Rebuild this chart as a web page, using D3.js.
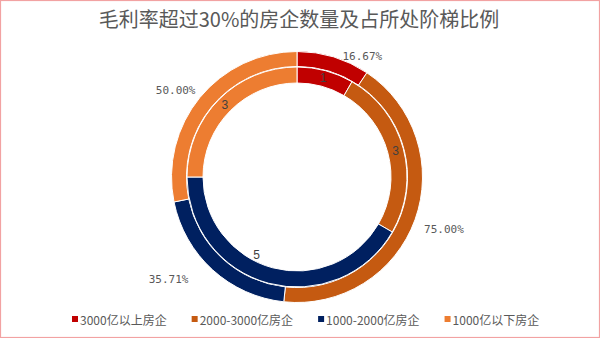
<!DOCTYPE html>
<html>
<head>
<meta charset="utf-8">
<script src="https://cdn.jsdelivr.net/npm/d3@7"></script>
<style>
  html, body { margin: 0; padding: 0; background: #fff; }
  svg { display: block; }
</style>
</head>
<body>
<svg id="chart" width="600" height="338"></svg>
<script>
// Tiers of developers by sales scale
const categories = ["3000亿以上房企", "2000-3000亿房企", "1000-2000亿房企", "1000亿以下房企"];
// Number of developers with gross margin above 30% (inner ring)
const companyCounts = [1, 3, 5, 3];
// Share of each tier those developers represent, in % (outer ring)
const tierShares = [16.67, 75.00, 35.71, 50.00];
const colors = ["#C00000", "#C55A11", "#002060", "#ED7D31"];

const title = "毛利率超过30%的房企数量及占所处阶梯比例";

// Layout
const W = 600, H = 338;
const cx = 297, cy = 177;
const outerR = [110.5, 125.5];
const innerR = [94, 110];
// Hand-placed offsets for the data labels, relative to the slice centroid
const shareLabelShift = [[31, -8], [36, 12], [-49, 15], [-30, -12]];
const countLabelShift = [[0, 0], [0, 0], [-14, -21], [0, 0]];

const svg = d3.select("#chart");

svg.append("rect")
  .attr("x", 0.5).attr("y", 0.5)
  .attr("width", W - 1).attr("height", H - 1)
  .attr("fill", "#fff")
  .attr("stroke", "#F2A2A2").attr("stroke-width", 1.2);

svg.append("text")
  .attr("x", 299).attr("y", 27)
  .attr("text-anchor", "middle")
  .attr("font-family", "'Noto Sans CJK SC', sans-serif")
  .attr("font-size", 20)
  .attr("fill", "#595959")
  .text(title);

const pie = d3.pie().sort(null).value(d => d);
const color = d3.scaleOrdinal().domain(categories).range(colors);

const g = svg.append("g").attr("transform", `translate(${cx},${cy})`);

function ring(values, radii, cls) {
  const arc = d3.arc().innerRadius(radii[0]).outerRadius(radii[1]);
  const arcs = pie(values);
  g.append("g").attr("class", cls)
    .selectAll("path")
    .data(arcs)
    .join("path")
    .attr("d", arc)
    .attr("fill", (d, i) => color(categories[i]))
    .attr("stroke", "#fff")
    .attr("stroke-width", 1);
  return { arc, arcs };
}

const outer = ring(tierShares, outerR, "shares");
const inner = ring(companyCounts, innerR, "counts");

// Percentage labels for the outer ring
g.append("g")
  .selectAll("text")
  .data(outer.arcs)
  .join("text")
  .attr("transform", (d, i) => {
    const [x, y] = outer.arc.centroid(d);
    return `translate(${x + shareLabelShift[i][0]},${y + shareLabelShift[i][1]})`;
  })
  .attr("text-anchor", "middle")
  .attr("dominant-baseline", "central")
  .attr("font-family", "'DejaVu Sans Mono', monospace")
  .attr("font-size", 11)
  .attr("fill", "#595959")
  .text(d => d3.format(".2f")(d.data) + "%");

// Count labels for the inner ring
g.append("g")
  .selectAll("text")
  .data(inner.arcs)
  .join("text")
  .attr("transform", (d, i) => {
    const [x, y] = inner.arc.centroid(d);
    return `translate(${x + countLabelShift[i][0]},${y + countLabelShift[i][1]})`;
  })
  .attr("text-anchor", "middle")
  .attr("dominant-baseline", "central")
  .attr("font-family", "'Liberation Sans', sans-serif")
  .attr("font-size", 12)
  .attr("fill", "#404040")
  .text(d => d.data);

// Legend
const legend = svg.append("g").attr("transform", "translate(0,319)");
let lx = 72;
categories.forEach((c, i) => {
  const item = legend.append("g").attr("transform", `translate(${lx},0)`);
  item.append("rect")
    .attr("x", 0).attr("y", -3)
    .attr("width", 6).attr("height", 6)
    .attr("fill", colors[i]);
  const t = item.append("text")
    .attr("x", 8).attr("y", 0)
    .attr("dominant-baseline", "central")
    .attr("font-family", "'Noto Sans CJK SC', sans-serif")
    .attr("font-size", 12)
    .attr("fill", "#595959")
    .text(c);
  lx += 8 + t.node().getComputedTextLength() + 25;
});
</script>
</body>
</html>
